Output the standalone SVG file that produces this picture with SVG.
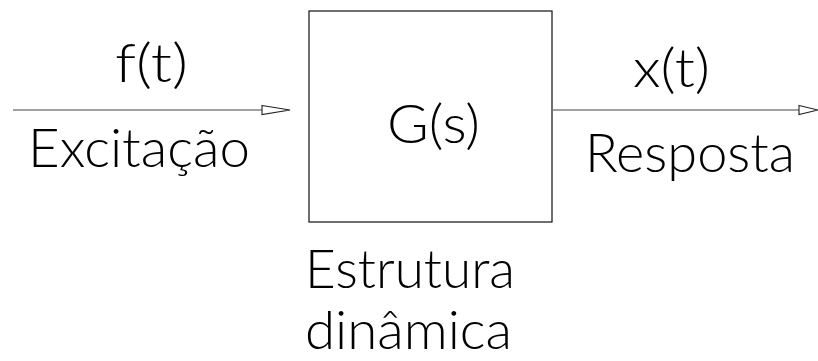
<svg xmlns="http://www.w3.org/2000/svg" width="818" height="361" viewBox="0 0 818 361">
<style>
  .t { font-family: "Lato", "Open Sans", "Liberation Sans", sans-serif; font-weight: 300; font-size: 54px; fill: #000; }
  .ln { stroke: #444; stroke-width: 1.2; fill: none; }
  .hd { stroke: #222; stroke-width: 1.1; fill: #fff; }
</style>
<rect width="818" height="361" fill="#fff"/>
<g id="block">
  <rect x="309" y="11" width="243" height="211" fill="none" stroke="#222" stroke-width="1.3"/>
  <text class="t" x="387" y="143" textLength="93" lengthAdjust="spacingAndGlyphs">G(s)</text>
  <text class="t" x="305" y="288" textLength="210" lengthAdjust="spacingAndGlyphs">Estrutura</text>
  <text class="t" x="305" y="349" font-size="50" textLength="207" lengthAdjust="spacingAndGlyphs">dinâmica</text>
</g>
<g id="connectors">
  <line class="ln" x1="13" y1="110" x2="262" y2="110"/>
  <polygon class="hd" points="262,105.5 290,110 262,114.5"/>
  <line class="ln" x1="553" y1="110" x2="799" y2="110"/>
  <polygon class="hd" points="799,105.5 818,110 799,114.5"/>
</g>
<g id="input">
  <text class="t" x="115" y="82" textLength="73" lengthAdjust="spacingAndGlyphs">f(t)</text>
  <text class="t" x="28" y="167" textLength="222" lengthAdjust="spacingAndGlyphs">Excitação</text>
</g>
<g id="output">
  <text class="t" x="633" y="87" textLength="77" lengthAdjust="spacingAndGlyphs">x(t)</text>
  <text class="t" x="585" y="172" textLength="210" lengthAdjust="spacingAndGlyphs">Resposta</text>
</g>
</svg>
